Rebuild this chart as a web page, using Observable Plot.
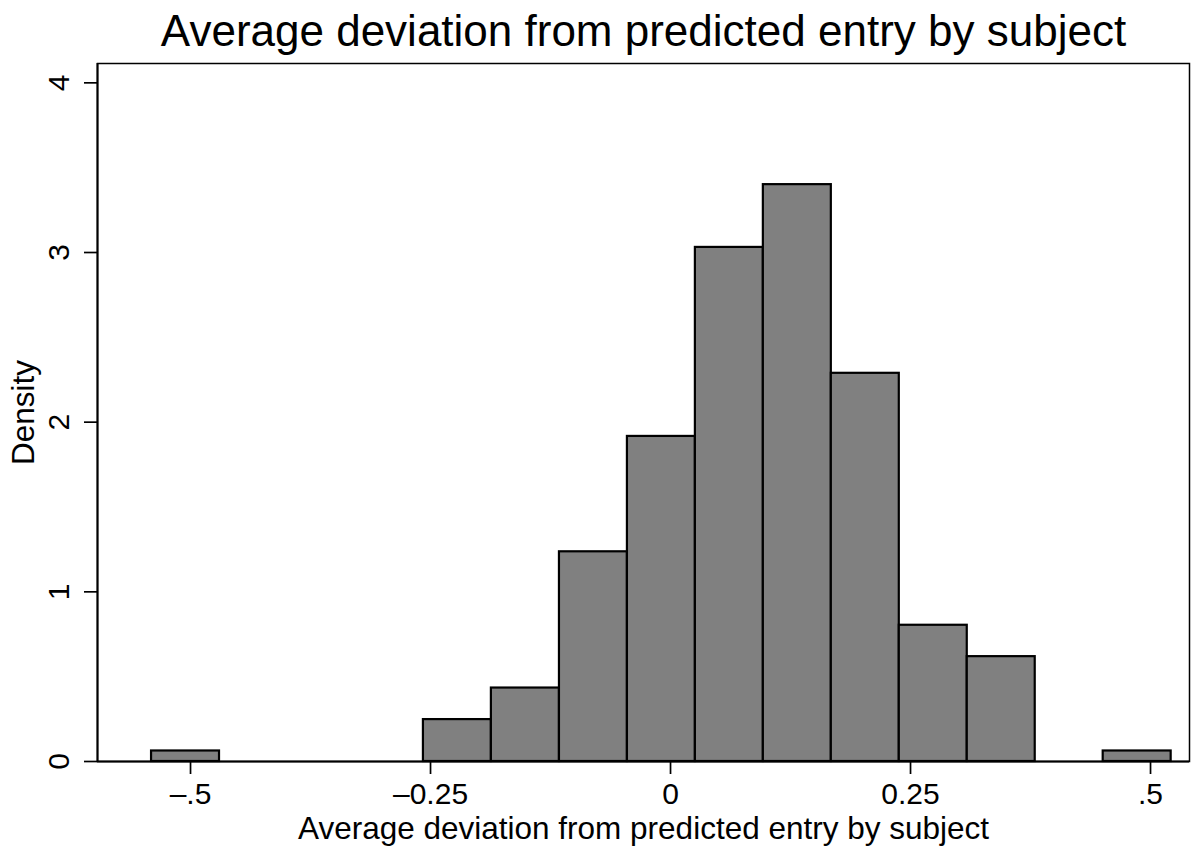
<!DOCTYPE html>
<html>
<head>
<meta charset="utf-8">
<script src="https://cdn.jsdelivr.net/npm/d3@7"></script>
<script src="https://cdn.jsdelivr.net/npm/@observablehq/plot@0.6"></script>
<style>
  html, body { margin: 0; padding: 0; background: #fff; }
  #chart svg { display: block; }
</style>
</head>
<body>
<div id="chart"></div>
<script>
// Histogram bins (left/right edges) and densities
const binStart = [-0.5406, -0.2574, -0.1866, -0.1157, -0.0449, 0.0259, 0.0967, 0.1675, 0.2383, 0.3091, 0.4507];
const binEnd   = [-0.4698, -0.1866, -0.1157, -0.0449, 0.0259, 0.0967, 0.1675, 0.2383, 0.3091, 0.3799, 0.5215];
const density  = [0.062, 0.247, 0.433, 1.236, 1.916, 3.030, 3.400, 2.288, 0.803, 0.618, 0.062];

const xTicks = [-0.5, -0.25, 0, 0.25, 0.5];
const xTickLabels = ["\u2013.5", "\u20130.25", "0", "0.25", ".5"];
const yTicks = [0, 1, 2, 3, 4];
const yTickLabels = ["0", "1", "2", "3", "4"];

const titleText = "Average deviation from predicted entry by subject";
const xTitle = "Average deviation from predicted entry by subject";
const yTitle = "Density";

const bins = binStart.map((s, i) => ({x1: s, x2: binEnd[i], y: density[i]}));
const yTickData = yTicks.map((v, i) => ({v, label: yTickLabels[i]}));

const font = "'Liberation Sans', Arial, Helvetica, sans-serif";

const chart = Plot.plot({
  width: 1194,
  height: 848,
  marginLeft: 97,
  marginRight: 5,
  marginTop: 63,
  marginBottom: 87,
  style: {fontFamily: font, background: "#fff", color: "#000"},
  x: {domain: [-0.5969, 0.5406]},
  y: {domain: [0, 4.114]},
  marks: [
    Plot.rectY(bins, {x1: "x1", x2: "x2", y: "y", fill: "#808080", stroke: "#000", strokeWidth: 2.2, inset: 0}),
    Plot.frame({stroke: "#000", strokeWidth: 1.5}),
    Plot.ruleY([0], {stroke: "#000", strokeWidth: 2}),
    Plot.ruleX([-0.5969], {stroke: "#000", strokeWidth: 2}),
    Plot.axisX({ticks: xTicks, tickSize: 13, tickPadding: 8, tickFormat: (d) => xTickLabels[xTicks.indexOf(d)], fontSize: 30, strokeWidth: 1.7, label: null}),
    Plot.axisY({ticks: yTicks, tickSize: 13, tickFormat: () => "", strokeWidth: 1.7, label: null}),
    Plot.text(yTickData, {y: "v", text: "label", frameAnchor: "left", dx: -29, rotate: -90, textAnchor: "middle", lineAnchor: "bottom", fontSize: 30, fill: "#000"}),
    Plot.text([yTitle], {text: (d) => d, frameAnchor: "left", dx: -64, rotate: -90, textAnchor: "middle", lineAnchor: "bottom", fontSize: 31.5, fill: "#000"}),
    Plot.text([xTitle], {text: (d) => d, frameAnchor: "bottom", dy: 77, textAnchor: "middle", lineAnchor: "bottom", fontSize: 31.5, fill: "#000"}),
    Plot.text([titleText], {text: (d) => d, frameAnchor: "top", dy: -18, textAnchor: "middle", lineAnchor: "bottom", fontSize: 44, fill: "#000"})
  ]
});
document.getElementById("chart").appendChild(chart);
</script>
</body>
</html>
